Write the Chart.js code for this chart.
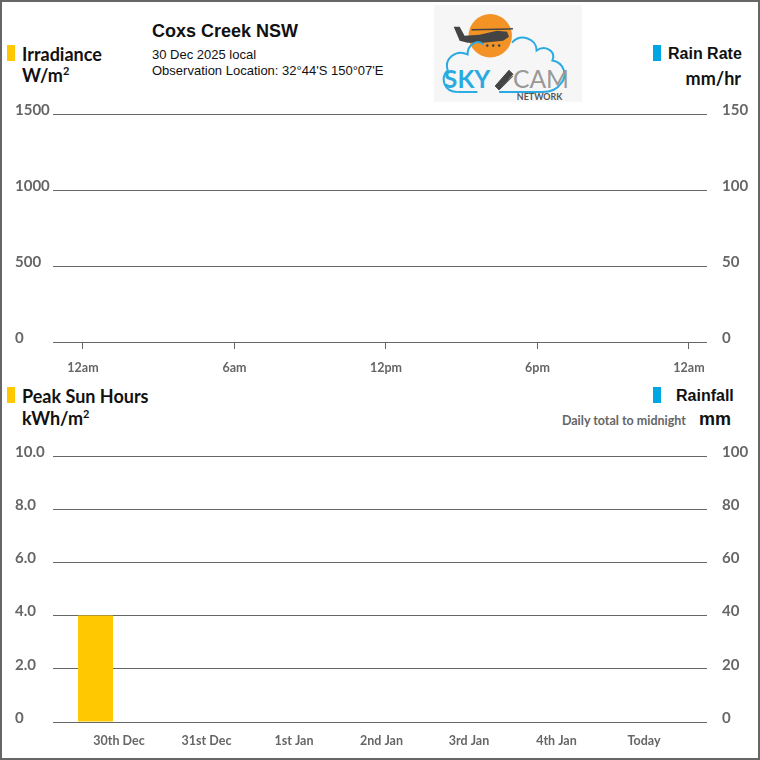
<!DOCTYPE html>
<html>
<head>
<meta charset="utf-8">
<script src="https://cdn.jsdelivr.net/npm/chart.js@4"></script>
<style>
  html, body { margin: 0; padding: 0; background: #fff; }
  #frame { position: relative; width: 760px; height: 760px; box-sizing: border-box; border: 2px solid #666; overflow: hidden; }
  .abs { position: absolute; white-space: nowrap; line-height: 1; }
  .mark { position: absolute; width: 8px; height: 16px; }
  .head { font-family: Lato, sans-serif; font-weight: 700; font-size: 18px; color: #111; }
  .arial { font-family: "Liberation Sans", Arial, sans-serif; }
  canvas { position: absolute; left: -2px; }
</style>
</head>
<body>
<div id="frame">
  <!-- header top -->
  <div class="mark" style="left:5px;top:43px;background:#ffc800"></div>
  <div class="abs head" style="left:20px;top:43px">Irradiance</div>
  <div class="abs head" style="left:20px;top:63px">W/m<sup style="font-size:11px">2</sup></div>

  <div class="abs arial" style="left:150px;top:20px;font-size:18px;font-weight:700;color:#111">Coxs Creek NSW</div>
  <div class="abs arial" style="left:150px;top:46px;font-size:13px;color:#111">30 Dec 2025 local</div>
  <div class="abs arial" style="left:150px;top:62px;font-size:13px;color:#111">Observation Location: 32°44'S 150°07'E</div>

  <svg class="abs" style="left:432px;top:3px" width="148" height="97" viewBox="0 0 150 98">
    <rect x="0" y="0" width="150" height="98" fill="#f6f6f6"/>
    <circle cx="57" cy="31" r="22" fill="#f39325"/>
    <path d="M20 22 L26 22 L31 31 L46 30 L64 26 L74 27 L76 32 L70 36 L50 38 L34 38 L26 36 Z" fill="#444"/>
    <path d="M38 25 L80 24" stroke="#444" stroke-width="1.5"/>
    <circle cx="54" cy="41" r="1.3" fill="#444"/><circle cx="60" cy="41" r="1.3" fill="#444"/><circle cx="66" cy="41" r="1.3" fill="#444"/>
    <path d="M24 88 C10 88 6 74 14 66 C10 55 22 44 34 50 C34 40 44 34 50 40
             M79 38 C88 28 104 34 104 46 C112 40 124 46 120 56 C132 58 136 72 128 80 C124 86 118 88 110 88 L66 88"
          fill="none" stroke="#29abe2" stroke-width="2"/>
    <path d="M24 88 L44 88" stroke="#29abe2" stroke-width="2"/>
    <text x="10" y="84" font-family="Lato, sans-serif" font-weight="700" font-size="25" fill="#29abe2">SKY</text>
    <path d="M62 82 L76 66 L80 70 L66 86 Z M68 84 L80 72" fill="#444" stroke="#444" stroke-width="1"/>
    <text x="80" y="84" font-family="Lato, sans-serif" font-weight="400" font-size="25" fill="#999">CAM</text>
    <text x="84" y="96" font-family="Lato, sans-serif" font-weight="700" font-size="9" fill="#555">NETWORK</text>
  </svg>

  <div class="mark" style="left:651px;top:43px;background:#00a5e3"></div>
  <div class="abs arial" style="left:666px;top:44px;font-size:16px;font-weight:700;color:#111">Rain Rate</div>
  <div class="abs head" style="right:17px;top:67px">mm/hr</div>

  <canvas id="irr_graph" width="760" height="292" style="top:88px"></canvas>

  <!-- header bottom -->
  <div class="mark" style="left:5px;top:385px;background:#ffc800"></div>
  <div class="abs head" style="left:20px;top:385px">Peak Sun Hours</div>
  <div class="abs head" style="left:20px;top:406px">kWh/m<sup style="font-size:11px">2</sup></div>

  <div class="mark" style="left:651px;top:385px;background:#00a5e3"></div>
  <div class="abs arial" style="left:674px;top:386px;font-size:16px;font-weight:700;color:#111">Rainfall</div>
  <div class="abs" style="right:72px;top:413px;font-family:Lato, sans-serif;font-weight:700;font-size:12.5px;color:#666">Daily total to midnight</div>
  <div class="abs arial" style="left:697px;top:408px;font-size:18px;font-weight:700;color:#111">mm</div>

  <canvas id="day_graph" width="760" height="320" style="top:430px"></canvas>
</div>

<script>
// top chart: irradiance / rain rate through the day (no readings yet)
var hourTicks = [0, 6, 12, 18, 24];
var hourLabels = ["12am", "6am", "12pm", "6pm", "12am"];
var irradianceValues = [];
var rainRateValues = [];

// bottom chart: daily totals
var dayLabels = ["30th Dec", "31st Dec", "1st Jan", "2nd Jan", "3rd Jan", "4th Jan", "Today"];
var sunHours = [4.0, 0, 0, 0, 0, 0, 0];
var rainfall = [0, 0, 0, 0, 0, 0, 0];

var gridGrey = "#666";
var tickFont = { family: "Lato, sans-serif", weight: "bold", size: 15 };
var smallFont = { family: "Lato, sans-serif", weight: "bold", size: 12.5 };

Chart.defaults.animation = false;
Chart.defaults.devicePixelRatio = 1;

function setWidth(w) { return function (axis) { axis.width = w; }; }
function setHeight(h) { return function (axis) { axis.height = h; }; }
function plain(v) { return String(v); }

//============================================
// irradiance
//============================================
var config_irr = {
    type: 'line',
    data: {
        datasets: [{
            label: 'Irradiance',
            data: irradianceValues,
            borderColor: "#ffc800",
            yAxisID: 'y'
        }, {
            label: 'Rain Rate',
            data: rainRateValues,
            borderColor: "#00a5e3",
            yAxisID: 'y1'
        }]
    },
    options: {
        responsive: false,
        layout: { padding: { top: 0, left: 15, right: 0, bottom: 0 } },
        plugins: { legend: { display: false }, tooltip: { enabled: false } },
        scales: {
            x: {
                type: 'linear',
                min: -1.188,
                max: 24.713,
                afterBuildTicks: function (axis) {
                    axis.ticks = hourTicks.map(function (v) { return { value: v }; });
                },
                afterFit: setHeight(40),
                grid: { drawOnChartArea: false, drawTicks: true, tickLength: 7, color: gridGrey },
                border: { display: false },
                ticks: {
                    padding: 11,
                    maxRotation: 0,
                    color: gridGrey,
                    font: smallFont,
                    callback: function (v) { return hourLabels[hourTicks.indexOf(v)]; }
                }
            },
            y: {
                position: 'left',
                min: 0,
                max: 1500,
                afterFit: setWidth(38),
                grid: { color: gridGrey, drawTicks: false },
                border: { display: false },
                ticks: { stepSize: 500, crossAlign: 'far', padding: 0, labelOffset: -4, color: gridGrey, font: tickFont, callback: plain }
            },
            y1: {
                position: 'right',
                min: 0,
                max: 150,
                afterFit: setWidth(53),
                grid: { display: false, drawTicks: false },
                border: { display: false },
                ticks: { stepSize: 50, padding: 15, labelOffset: -4, color: gridGrey, font: tickFont, callback: plain }
            }
        }
    }
};
new Chart(document.getElementById("irr_graph").getContext("2d"), config_irr);

//============================================
// daily sun hours / rainfall
//============================================
var config_day = {
    type: 'bar',
    data: {
        datasets: [{
            label: 'Peak Sun Hours',
            data: sunHours.map(function (v, i) { return { x: i, y: v }; }),
            backgroundColor: "#ffc800",
            yAxisID: 'y'
        }, {
            label: 'Rainfall',
            data: rainfall.map(function (v, i) { return { x: i, y: v }; }),
            backgroundColor: "#00a5e3",
            yAxisID: 'y1'
        }]
    },
    options: {
        responsive: false,
        layout: { padding: { top: 0, left: 15, right: 0, bottom: 0 } },
        plugins: { legend: { display: false }, tooltip: { enabled: false } },
        datasets: { bar: { categoryPercentage: 0.8, barPercentage: 1.0, borderWidth: 0 } },
        scales: {
            x: {
                type: 'linear',
                offset: false,
                min: -0.686,
                max: 6.789,
                afterBuildTicks: function (axis) {
                    axis.ticks = dayLabels.map(function (l, i) { return { value: i }; });
                },
                afterFit: setHeight(30),
                grid: { display: false, drawTicks: false, offset: false },
                border: { display: false },
                ticks: {
                    padding: 11,
                    labelOffset: 6,
                    maxRotation: 0,
                    autoSkip: false,
                    color: gridGrey,
                    font: smallFont,
                    callback: function (v) { return dayLabels[v]; }
                }
            },
            y: {
                position: 'left',
                min: 0,
                max: 10,
                afterFit: setWidth(38),
                grid: { color: gridGrey, drawTicks: false },
                border: { display: false },
                ticks: {
                    stepSize: 2, crossAlign: 'far', padding: 0, labelOffset: -4, color: gridGrey, font: tickFont,
                    callback: function (v) { return v === 0 ? "0" : v.toFixed(1); }
                }
            },
            y1: {
                position: 'right',
                min: 0,
                max: 100,
                afterFit: setWidth(53),
                grid: { display: false, drawTicks: false },
                border: { display: false },
                ticks: { stepSize: 20, padding: 15, labelOffset: -4, color: gridGrey, font: tickFont, callback: plain }
            }
        }
    }
};
new Chart(document.getElementById("day_graph").getContext("2d"), config_day);
</script>
</body>
</html>
